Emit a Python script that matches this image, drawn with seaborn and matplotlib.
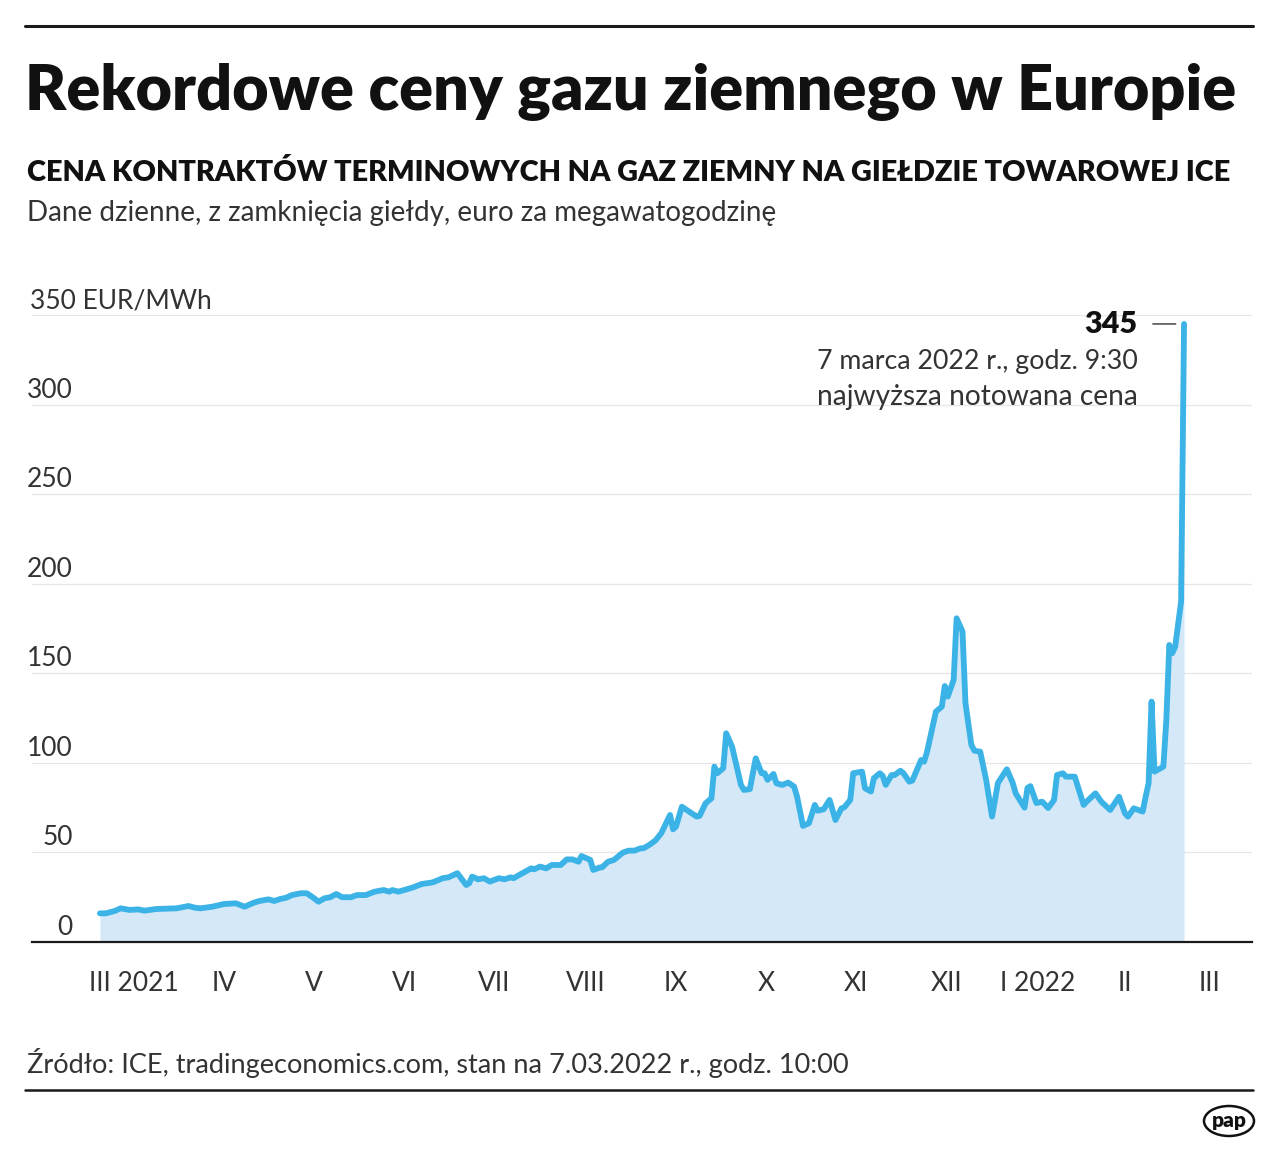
import matplotlib
matplotlib.use("Agg")
import matplotlib.pyplot as plt
import matplotlib.dates as mdates
from matplotlib.ticker import NullFormatter
from matplotlib.patches import Ellipse
from matplotlib.lines import Line2D
import seaborn as sns
import pandas as pd

# TTF gas futures, EUR/MWh
dates = [
    "2021-03-05", "2021-03-07", "2021-03-10", "2021-03-12", "2021-03-15", "2021-03-18",
    "2021-03-20", "2021-03-24", "2021-03-28", "2021-03-31", "2021-04-04", "2021-04-06",
    "2021-04-08", "2021-04-12", "2021-04-16", "2021-04-20", "2021-04-23", "2021-04-26",
    "2021-04-28", "2021-05-01", "2021-05-03", "2021-05-05", "2021-05-07", "2021-05-09",
    "2021-05-12", "2021-05-14", "2021-05-16", "2021-05-18", "2021-05-20", "2021-05-22",
    "2021-05-24", "2021-05-26", "2021-05-29", "2021-05-31", "2021-06-03", "2021-06-06",
    "2021-06-09", "2021-06-11", "2021-06-12", "2021-06-14", "2021-06-16", "2021-06-19",
    "2021-06-22", "2021-06-25", "2021-06-26", "2021-06-29", "2021-07-01", "2021-07-04",
    "2021-07-07", "2021-07-08", "2021-07-09", "2021-07-11", "2021-07-13", "2021-07-15",
    "2021-07-18", "2021-07-20", "2021-07-22", "2021-07-23", "2021-07-26", "2021-07-29",
    "2021-07-30", "2021-08-01", "2021-08-03", "2021-08-05", "2021-08-08", "2021-08-10",
    "2021-08-12", "2021-08-14", "2021-08-15", "2021-08-18", "2021-08-19", "2021-08-21",
    "2021-08-22", "2021-08-24", "2021-08-26", "2021-08-29", "2021-08-31", "2021-09-02",
    "2021-09-04", "2021-09-05", "2021-09-07", "2021-09-09", "2021-09-11", "2021-09-14",
    "2021-09-15", "2021-09-16", "2021-09-18", "2021-09-20", "2021-09-23", "2021-09-24",
    "2021-09-26", "2021-09-28", "2021-09-29", "2021-09-30", "2021-10-02", "2021-10-03",
    "2021-10-05", "2021-10-08", "2021-10-09", "2021-10-11", "2021-10-13", "2021-10-15",
    "2021-10-16", "2021-10-17", "2021-10-19", "2021-10-20", "2021-10-22", "2021-10-24",
    "2021-10-26", "2021-10-27", "2021-10-29", "2021-10-31", "2021-11-02", "2021-11-03",
    "2021-11-05", "2021-11-07", "2021-11-09", "2021-11-11", "2021-11-12", "2021-11-14",
    "2021-11-15", "2021-11-18", "2021-11-19", "2021-11-21", "2021-11-22", "2021-11-24",
    "2021-11-25", "2021-11-26", "2021-11-28", "2021-11-29", "2021-12-01", "2021-12-02",
    "2021-12-04", "2021-12-05", "2021-12-08", "2021-12-09", "2021-12-10", "2021-12-13",
    "2021-12-15", "2021-12-16", "2021-12-17", "2021-12-19", "2021-12-20", "2021-12-22",
    "2021-12-23", "2021-12-25", "2021-12-26", "2021-12-28", "2021-12-30", "2022-01-01",
    "2022-01-03", "2022-01-06", "2022-01-08", "2022-01-09", "2022-01-12", "2022-01-13",
    "2022-01-14", "2022-01-16", "2022-01-18", "2022-01-20", "2022-01-22", "2022-01-23",
    "2022-01-25", "2022-01-26", "2022-01-29", "2022-02-01", "2022-02-02", "2022-02-05",
    "2022-02-07", "2022-02-10", "2022-02-13", "2022-02-15", "2022-02-16", "2022-02-18",
    "2022-02-21", "2022-02-22", "2022-02-23", "2022-02-24", "2022-02-25", "2022-02-28",
    "2022-03-01", "2022-03-02", "2022-03-03", "2022-03-04", "2022-03-06", "2022-03-07",
]
prices = [
    16.0, 16.0, 17.3, 18.8, 17.9, 18.2,
    17.5, 18.4, 18.6, 18.8, 20.1, 19.2,
    18.8, 19.7, 21.2, 21.6, 19.7, 21.9,
    22.9, 23.8, 22.9, 24.0, 24.7, 26.2,
    27.2, 27.2, 25.0, 22.5, 24.4, 25.0,
    26.8, 25.0, 25.0, 26.2, 26.2, 28.1,
    29.0, 28.1, 29.0, 28.1, 29.0, 30.5,
    32.4, 33.1, 33.5, 35.6, 36.1, 38.4,
    31.8, 32.8, 36.5, 35.0, 35.6, 33.7,
    35.6, 35.0, 36.1, 35.6, 38.4, 41.1,
    40.6, 42.1, 41.1, 43.0, 43.0, 46.1,
    46.1, 44.8, 48.0, 45.8, 40.2, 41.5,
    41.7, 44.8, 45.8, 49.9, 51.0, 51.0,
    52.3, 52.3, 54.2, 56.6, 60.7, 70.9,
    62.9, 64.4, 75.5, 73.3, 70.0, 70.4,
    77.4, 80.2, 97.9, 94.2, 97.0, 116.5,
    109.0, 87.7, 84.9, 85.3, 102.5, 94.2,
    94.2, 90.5, 93.8, 88.6, 87.7, 89.0,
    86.7, 81.1, 64.8, 66.3, 76.5, 73.3,
    74.1, 79.3, 68.1, 74.6, 75.2, 79.3,
    94.2, 95.1, 85.8, 84.0, 91.4, 94.2,
    92.7, 87.7, 93.2, 93.2, 95.6, 94.2,
    89.5, 90.1, 101.6, 100.7, 106.2, 128.6,
    131.4, 142.9, 137.0, 146.3, 180.7, 173.3,
    133.3, 110.0, 106.8, 106.2, 90.5, 70.0,
    88.8, 96.4, 88.8, 83.0, 75.0, 86.0,
    87.0, 77.6, 78.3, 74.8, 79.3, 93.2,
    94.2, 92.3, 92.3, 76.5, 78.3, 83.0,
    78.3, 73.7, 81.1, 71.8, 70.0, 74.6,
    72.8, 81.1, 88.6, 134.2, 95.1, 97.9,
    124.0, 165.8, 161.2, 164.9, 190.0, 345.0,
]
month_labels = ["III 2021", "IV", "V", "VI", "VII", "VIII", "IX", "X", "XI",
                "XII", "I 2022", "II", "III"]
y_ticks = [0, 50, 100, 150, 200, 250, 300, 350]

TITLE = "Rekordowe ceny gazu ziemnego w Europie"
SUBTITLE = "CENA KONTRAKTÓW TERMINOWYCH NA GAZ ZIEMNY NA GIEŁDZIE TOWAROWEJ ICE"
DESC = "Dane dzienne, z zamknięcia giełdy, euro za megawatogodzinę"
SOURCE = "Źródło: ICE, tradingeconomics.com, stan na 7.03.2022 r., godz. 10:00"
NOTE1 = "7 marca 2022 r., godz. 9:30"
NOTE2 = "najwyższa notowana cena"

LINE = "#3bb3e6"
FILL = "#d5e8f8"
DARK = "#1a1a1a"
TXT = "#333333"

sns.set_style("white")
plt.rcParams["font.family"] = ["Lato", "DejaVu Sans"]

W, H = 1280, 1152
fig = plt.figure(figsize=(W / 100, H / 100), dpi=100)
renderer = fig.canvas.get_renderer()


def fx(px):
    return px / W


def fy(py):
    return 1 - py / H


def fit(txt, width_px):
    w = txt.get_window_extent(renderer).width
    txt.set_fontsize(txt.get_fontsize() * width_px / w)


df = pd.DataFrame({"date": pd.to_datetime(dates), "price": prices})

ax = fig.add_axes([fx(32), fy(942), fx(1252) - fx(32), fy(315) - fy(942)])
ax.fill_between(df["date"], df["price"], color=FILL, lw=0, zorder=1)
sns.lineplot(data=df, x="date", y="price", ax=ax, color=LINE, linewidth=4.2,
             zorder=3, solid_joinstyle="round", solid_capstyle="round")

x0, x1 = pd.Timestamp("2021-02-10"), pd.Timestamp("2022-03-30")
ax.set_xlim(x0, x1)
ax.set_ylim(0, 350)
ax.set_xlabel("")
ax.set_ylabel("")

for s in ["left", "top", "right"]:
    ax.spines[s].set_visible(False)
ax.spines["bottom"].set_color(DARK)
ax.spines["bottom"].set_linewidth(1.6)
ax.spines["bottom"].set_zorder(4)

ax.set_yticks(y_ticks)
ax.yaxis.grid(True, color="#e6e6e6", lw=0.9, zorder=0)
ax.xaxis.grid(False)
ax.tick_params(axis="y", length=0, labelleft=False)

# month boundaries as ticks (plus the axis end), labels centred in each month
starts = pd.date_range("2021-03-01", "2022-04-01", freq="MS")
ax.set_xticks(list(starts[:-1]) + [x1])
ax.xaxis.set_major_formatter(NullFormatter())
mids = [a + (b - a) / 2 for a, b in zip(starts[:-1], starts[1:])]
mids[-1] = starts[-2] + (x1 - starts[-2]) / 2
ax.set_xticks(mids, minor=True)
ax.set_xticklabels(month_labels, minor=True)
ax.tick_params(axis="x", which="major", length=9, width=1.0, color="#333333",
               direction="out")
ax.tick_params(axis="x", which="minor", length=0, pad=21, labelsize=19,
               labelcolor=TXT)

# y labels sit above their gridlines
for v in y_ticks:
    if v == 350:
        ax.annotate(f"{v} EUR/MWh", xy=(fx(30), v), xycoords=("figure fraction", "data"),
                    xytext=(0, 7), textcoords="offset pixels", ha="left", va="baseline",
                    fontsize=19, color=TXT)
    else:
        ax.annotate(f"{v}", xy=(fx(73), v), xycoords=("figure fraction", "data"),
                    xytext=(0, 7), textcoords="offset pixels", ha="right", va="baseline",
                    fontsize=19, color=TXT)

# peak annotation
last = df.iloc[-1]
ax.annotate(f"{last['price']:.0f}", xy=(last["date"], last["price"]),
            xytext=(-47, 0), textcoords="offset pixels", ha="right", va="center",
            fontsize=22, fontweight="heavy", color="#111111",
            arrowprops=dict(arrowstyle="-", color="#333333", lw=1.0,
                            shrinkA=9, shrinkB=6))
t = fig.text(fx(1138), fy(361), NOTE1, ha="right", va="center", fontsize=20,
             color=TXT)
fit(t, 320)
t = fig.text(fx(1138), fy(397), NOTE2, ha="right", va="center", fontsize=20,
             color=TXT)
fit(t, 320)

# header
fig.add_artist(Line2D([fx(25), fx(1253)], [fy(26), fy(26)], color=DARK, lw=2.2))
t = fig.text(fx(25), fy(110), TITLE, fontsize=46, fontweight="heavy",
             color="#111111", va="baseline")
fit(t, 1212)
t = fig.text(fx(27), fy(181), SUBTITLE, fontsize=22, fontweight="heavy",
             color="#111111", va="baseline")
fit(t, 1203)
t = fig.text(fx(27), fy(221), DESC, fontsize=20, color=TXT, va="baseline")
fit(t, 750)

# footer
t = fig.text(fx(27), fy(1073), SOURCE, fontsize=20, color=TXT, va="baseline")
fit(t, 823)
fig.add_artist(Line2D([fx(25), fx(1253)], [fy(1090), fy(1090)], color=DARK, lw=1.8))
fig.add_artist(Ellipse((fx(1229), fy(1121)), 50 / W, 30 / H, transform=fig.transFigure,
                       fill=False, ec="#111111", lw=1.8))
fig.text(fx(1229), fy(1121), "pap", ha="center", va="center", fontsize=15,
         fontweight="heavy", color="#111111")

fig.savefig("out.png", dpi=100)
